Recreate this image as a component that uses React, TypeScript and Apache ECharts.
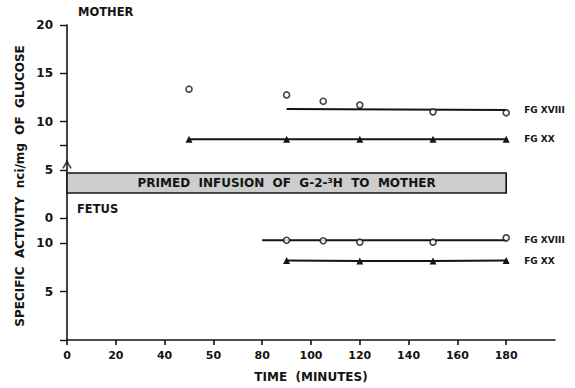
import React, { useEffect, useRef } from "react";
import * as echarts from "echarts";

// ---- data ----
const xTickValues = [0, 20, 40, 60, 80, 100, 120, 140, 160, 180];
const xTickLabels = ["0", "20", "40", "50", "80", "100", "120", "140", "160", "180"];
const motherTickValues = [0, 5, 7.5, 10, 15, 20];
const motherLabelValues = [0, 5, 10, 15, 20];
const fetusTickValues = [0, 5, 10];
const fetusLabelValues = [5, 10];

const motherXVIIIPoints: [number, number][] = [
  [50, 13.35], [90, 12.75], [105, 12.1], [120, 11.7], [150, 11.0], [180, 10.9],
];
const motherXVIIIFit: [number, number][] = [[90, 11.3], [180, 11.18]];
const motherXX: [number, number][] = [
  [50, 8.15], [90, 8.15], [120, 8.15], [150, 8.15], [180, 8.15],
];

const fetusXVIIIPoints: [number, number][] = [
  [90, 10.3], [105, 10.25], [120, 10.1], [150, 10.1], [180, 10.55],
];
const fetusXVIIIFit: [number, number][] = [[80, 10.3], [180, 10.3]];
const fetusXX: [number, number][] = [
  [90, 8.2], [120, 8.15], [150, 8.15], [180, 8.2],
];

const infusion = { x0: 0, x1: 180, y0: 2.59, y1: 4.66, label: "PRIMED  INFUSION  OF  G-2-³H  TO  MOTHER" };
const arrowPoint: [number, number][] = [[0, 5.5]];

const INK = "#141414";
const FONT = "DejaVu Sans";

export default function App() {
  const ref = useRef<HTMLDivElement>(null);
  useEffect(() => {
    if (!ref.current) return;
    const chart = echarts.init(ref.current, undefined, { renderer: "svg" });
    const openCircle = {
      type: "scatter" as const,
      symbol: "circle",
      symbolSize: 6,
      itemStyle: { color: "#fff", borderColor: INK, borderWidth: 1.6 },
      z: 5,
    };
    const endLabel = (t: string) => ({
      show: true,
      formatter: t,
      distance: 18,
      color: INK,
      fontFamily: FONT,
      fontWeight: "bold" as const,
      fontSize: 9,
    });
    const xLabel = (v: any) => {
      const i = xTickValues.indexOf(Number(v));
      return i >= 0 ? xTickLabels[i] : "";
    };
    chart.setOption({
      animation: false,
      backgroundColor: "#fff",
      textStyle: { fontFamily: FONT },
      grid: [
        { left: 67, top: 25, width: 488, height: 193 },
        { left: 67, top: 218, width: 488, height: 122 },
      ],
      xAxis: [
        { gridIndex: 0, type: "value", min: 0, max: 200, show: false },
        {
          gridIndex: 1,
          type: "value",
          min: 0,
          max: 200,
          interval: 20,
          splitLine: { show: false },
          axisLine: { lineStyle: { color: INK, width: 1.6 } },
          axisTick: { customValues: xTickValues, length: 5, lineStyle: { color: INK, width: 1.6 } },
          axisLabel: {
            formatter: xLabel,
            color: INK,
            fontFamily: FONT,
            fontWeight: "bold",
            fontSize: 11,
            margin: 10,
          },
          name: "TIME  (MINUTES)",
          nameLocation: "middle",
          nameGap: 31,
          nameTextStyle: { color: INK, fontFamily: FONT, fontWeight: "bold", fontSize: 12 },
        },
      ],
      yAxis: [
        {
          gridIndex: 0,
          type: "value",
          min: 0,
          max: 20,
          interval: 5,
          splitLine: { show: false },
          axisLine: { show: true, lineStyle: { color: INK, width: 1.6 } },
          axisTick: { show: true, customValues: motherTickValues, length: 7, lineStyle: { color: INK, width: 1.4 } },
          axisLabel: {
            customValues: motherLabelValues,
            color: INK,
            fontFamily: FONT,
            fontWeight: "bold",
            fontSize: 12,
            margin: 14,
          },
        },
        {
          gridIndex: 1,
          type: "value",
          min: 0,
          max: 12.6,
          interval: 5,
          splitLine: { show: false },
          axisLine: { show: true, lineStyle: { color: INK, width: 1.6 } },
          axisTick: { show: true, customValues: fetusTickValues, length: 7, lineStyle: { color: INK, width: 1.4 } },
          axisLabel: {
            customValues: fetusLabelValues,
            color: INK,
            fontFamily: FONT,
            fontWeight: "bold",
            fontSize: 12,
            margin: 14,
          },
        },
      ],
      graphic: [
        {
          type: "text",
          left: 78,
          top: 6,
          style: { text: "MOTHER", fill: INK, font: `bold 11.5px "${FONT}"` },
        },
        {
          type: "text",
          left: 77,
          top: 203,
          style: { text: "FETUS", fill: INK, font: `bold 11.5px "${FONT}"` },
        },
        {
          type: "text",
          x: 20,
          y: 186,
          rotation: Math.PI / 2,
          style: {
            text: "SPECIFIC  ACTIVITY  nci/mg  OF  GLUCOSE",
            fill: INK,
            font: `bold 12px "${FONT}"`,
            textAlign: "center",
            textVerticalAlign: "middle",
          },
        },
      ],
      series: [
        {
          type: "scatter",
          xAxisIndex: 0,
          yAxisIndex: 0,
          data: arrowPoint,
          symbol: "path://M0,8 L5,0 L10,8",
          symbolSize: [8, 7],
          itemStyle: { color: "none", borderColor: INK, borderWidth: 1.5 },
          markArea: {
            silent: true,
            itemStyle: { color: "#cdcdcd", borderColor: INK, borderWidth: 1.6 },
            label: {
              show: true,
              position: "inside",
              formatter: infusion.label,
              color: INK,
              fontFamily: FONT,
              fontWeight: "bold",
              fontSize: 12,
            },
            data: [[{ coord: [infusion.x0, infusion.y1] }, { coord: [infusion.x1, infusion.y0] }]],
          },
        },
        { ...openCircle, xAxisIndex: 0, yAxisIndex: 0, data: motherXVIIIPoints },
        {
          type: "line",
          xAxisIndex: 0,
          yAxisIndex: 0,
          data: motherXVIIIFit,
          symbol: "none",
          lineStyle: { color: INK, width: 2 },
          endLabel: endLabel("FG XVIII"),
        },
        {
          type: "line",
          xAxisIndex: 0,
          yAxisIndex: 0,
          data: motherXX,
          symbol: "triangle",
          symbolSize: 7,
          itemStyle: { color: INK },
          lineStyle: { color: INK, width: 2 },
          endLabel: endLabel("FG XX"),
        },
        { ...openCircle, xAxisIndex: 1, yAxisIndex: 1, data: fetusXVIIIPoints },
        {
          type: "line",
          xAxisIndex: 1,
          yAxisIndex: 1,
          data: fetusXVIIIFit,
          symbol: "none",
          lineStyle: { color: INK, width: 2 },
          endLabel: endLabel("FG XVIII"),
        },
        {
          type: "line",
          xAxisIndex: 1,
          yAxisIndex: 1,
          data: fetusXX,
          symbol: "triangle",
          symbolSize: 7,
          itemStyle: { color: INK },
          lineStyle: { color: INK, width: 2 },
          endLabel: endLabel("FG XX"),
        },
      ],
    });
    return () => chart.dispose();
  }, []);
  return (
    <div
      ref={ref}
      style={{ position: "absolute", left: 0, top: 0, width: 575, height: 388 }}
    />
  );
}
